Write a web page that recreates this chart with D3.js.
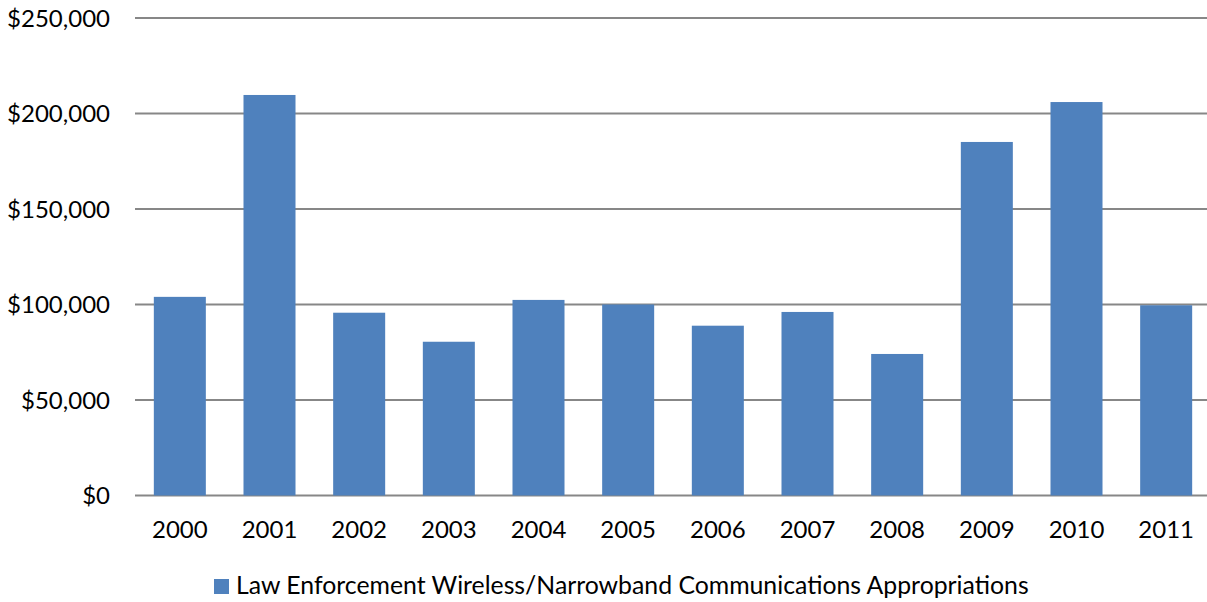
<!DOCTYPE html>
<html>

<head>
  <meta charset="utf8">
  <script src="https://d3js.org/d3.v7.min.js"></script>
  <style>
    body { margin: 0; background: #fff; }
    text { font-family: Lato, "Open Sans", sans-serif; fill: #000; }
  </style>
</head>

<body>
  <svg id="chart" width="1207" height="602"></svg>
  <script>
    var years = ['2000', '2001', '2002', '2003', '2004', '2005', '2006', '2007', '2008', '2009', '2010', '2011'];
    var amounts = [104000, 209700, 95700, 80500, 102400, 100000, 88900, 96100, 74100, 185100, 206000, 99600];
    var yTicks = [0, 50000, 100000, 150000, 200000, 250000];
    var seriesName = 'Law Enforcement Wireless/Narrowband Communications Appropriations';

    var chart = d3.select('#chart');

    var x = d3.scaleBand()
      .domain(years)
      .range([135, 1211])
      .paddingInner(0.42)
      .paddingOuter(0.21);

    var y = d3.scaleLinear()
      .domain([0, 250000])
      .range([495.5, 18]);

    var fmt = d3.format('$,');

    // gridlines
    chart.append('g').selectAll('line')
      .data(yTicks)
      .enter()
      .append('line')
      .attr('x1', 135)
      .attr('x2', 1207)
      .attr('y1', (d) => y(d))
      .attr('y2', (d) => y(d))
      .attr('stroke', '#878787')
      .attr('stroke-width', 2);

    // y labels
    chart.append('g').selectAll('text')
      .data(yTicks)
      .enter()
      .append('text')
      .attr('x', 110)
      .attr('y', (d) => y(d))
      .attr('dy', '0.36em')
      .attr('text-anchor', 'end')
      .style('font-size', '24px')
      .text((d) => fmt(d));

    // bars
    chart.append('g').selectAll('rect')
      .data(amounts)
      .enter()
      .append('rect')
      .attr('x', (d, i) => x(years[i]))
      .attr('width', x.bandwidth())
      .attr('y', (d) => y(d))
      .attr('height', (d) => y(0) - y(d))
      .attr('fill', '#4F81BD');

    // x labels
    chart.append('g').selectAll('text')
      .data(years)
      .enter()
      .append('text')
      .attr('x', (d) => x(d) + x.bandwidth() / 2)
      .attr('y', 538)
      .attr('text-anchor', 'middle')
      .style('font-size', '24px')
      .text((d) => d);

    // legend
    var legend = chart.append('g');
    legend.append('rect')
      .attr('x', 214)
      .attr('y', 579)
      .attr('width', 15)
      .attr('height', 15)
      .attr('fill', '#4F81BD');
    legend.append('text')
      .attr('x', 236)
      .attr('y', 594)
      .style('font-size', '24.8px')
      .text(seriesName);
  </script>
</body>

</html>
